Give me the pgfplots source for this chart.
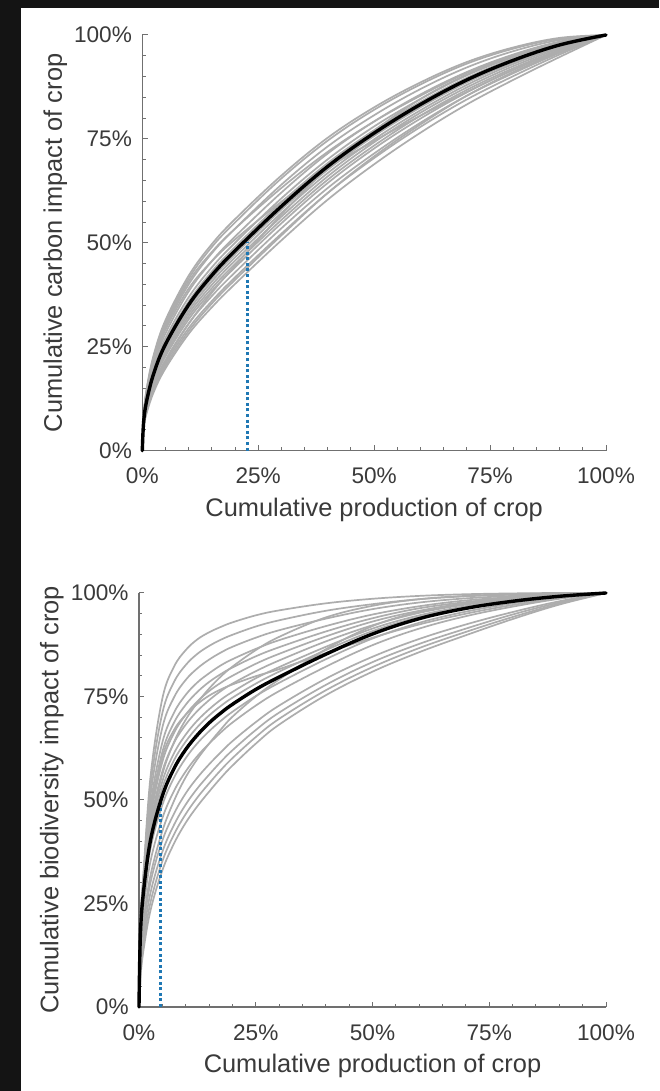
\documentclass[border=0pt]{standalone}
\usepackage{fontspec}
\setmainfont{Liberation Sans}
\usepackage{pgfplots}
\usepackage{pgfplotstable}
\pgfplotsset{compat=1.18}
\definecolor{curvegray}{HTML}{ADADAD}
\definecolor{axgray}{HTML}{707070}
\definecolor{txtgray}{HTML}{3A3A3A}
\definecolor{dotblue}{HTML}{1F78B4}
\definecolor{bgdark}{HTML}{141414}
\newcommand\ticklabelfont{\fontsize{11.3}{13}\selectfont}
\newcommand\labelfont{\fontsize{12.7}{15}\selectfont}

% carbon: cumulative production (x) vs cumulative carbon impact, 18 crops + median
\pgfplotstableread{
x     c1    c2    c3    c4    c5    c6    c7    c8    c9    c10   c11   c12   c13   c14   c15   c16   c17   c18   med
0     0     0     0     0     0     0     0     0     0     0     0     0     0     0     0     0     0     0     0
0.003 0.086 0.085 0.082 0.078 0.075 0.073 0.070 0.068 0.067 0.065 0.064 0.061 0.059 0.056 0.080 0.060 0.083 0.058 0.071
0.01  0.153 0.150 0.144 0.137 0.131 0.127 0.120 0.117 0.114 0.111 0.108 0.104 0.099 0.093 0.141 0.102 0.147 0.096 0.123
0.025 0.232 0.228 0.219 0.207 0.198 0.192 0.183 0.178 0.174 0.169 0.165 0.158 0.151 0.142 0.214 0.156 0.223 0.147 0.187
0.05  0.314 0.308 0.297 0.282 0.271 0.263 0.250 0.244 0.239 0.233 0.227 0.218 0.210 0.198 0.291 0.215 0.302 0.204 0.256
0.1   0.421 0.414 0.400 0.383 0.369 0.359 0.344 0.337 0.330 0.323 0.316 0.306 0.295 0.281 0.390 0.305 0.407 0.288 0.351
0.15  0.497 0.490 0.475 0.456 0.441 0.431 0.414 0.407 0.399 0.391 0.384 0.372 0.360 0.345 0.456 0.380 0.478 0.354 0.422
0.2   0.557 0.549 0.534 0.515 0.500 0.490 0.473 0.465 0.457 0.449 0.441 0.429 0.417 0.401 0.508 0.445 0.534 0.411 0.481
0.3   0.662 0.655 0.640 0.621 0.607 0.597 0.580 0.572 0.563 0.555 0.547 0.535 0.522 0.506 0.599 0.568 0.632 0.518 0.588
0.4   0.753 0.746 0.732 0.715 0.701 0.692 0.676 0.668 0.660 0.652 0.644 0.632 0.620 0.604 0.680 0.680 0.719 0.620 0.684
0.5   0.826 0.820 0.807 0.792 0.780 0.771 0.757 0.749 0.742 0.734 0.727 0.715 0.704 0.689 0.745 0.770 0.792 0.708 0.764
0.6   0.886 0.881 0.870 0.857 0.846 0.839 0.826 0.819 0.813 0.806 0.799 0.789 0.779 0.765 0.806 0.846 0.854 0.785 0.833
0.7   0.935 0.931 0.922 0.911 0.903 0.897 0.886 0.880 0.874 0.868 0.862 0.854 0.845 0.833 0.863 0.905 0.909 0.854 0.892
0.8   0.970 0.967 0.961 0.953 0.947 0.943 0.934 0.930 0.925 0.920 0.916 0.908 0.901 0.892 0.916 0.948 0.951 0.911 0.939
0.9   0.993 0.991 0.988 0.984 0.980 0.978 0.973 0.970 0.967 0.964 0.962 0.957 0.953 0.947 0.962 0.981 0.983 0.959 0.976
1     1     1     1     1     1     1     1     1     1     1     1     1     1     1     1     1     1     1     1
}\carbon

% biodiversity: cumulative production (x) vs cumulative biodiversity impact, 18 crops + median
\pgfplotstableread{
x     c1    c2    c3    c4    c5    c6    c7    c8    c9    c10   c11   c12   c13   c14   c15   c16   c17   c18   med
0     0     0     0     0     0     0     0     0     0     0     0     0     0     0     0     0     0     0     0
0.003 0.200 0.196 0.193 0.189 0.186 0.184 0.181 0.179 0.177 0.162 0.144 0.112 0.096 0.083 0.070 0.123 0.185 0.180 0.175
0.01  0.330 0.323 0.316 0.308 0.304 0.299 0.294 0.289 0.286 0.265 0.239 0.197 0.176 0.157 0.140 0.211 0.301 0.292 0.282
0.025 0.560 0.537 0.514 0.490 0.475 0.459 0.444 0.428 0.417 0.385 0.354 0.303 0.278 0.255 0.235 0.320 0.467 0.436 0.405
0.05  0.745 0.710 0.675 0.639 0.616 0.592 0.569 0.545 0.529 0.488 0.456 0.402 0.375 0.352 0.330 0.425 0.604 0.562 0.510
0.075 0.822 0.785 0.748 0.711 0.687 0.662 0.638 0.613 0.596 0.554 0.522 0.467 0.440 0.417 0.395 0.498 0.669 0.640 0.576
0.1   0.862 0.826 0.790 0.754 0.730 0.706 0.682 0.658 0.641 0.601 0.569 0.516 0.489 0.466 0.445 0.555 0.706 0.694 0.622
0.125 0.888 0.853 0.818 0.784 0.761 0.738 0.715 0.692 0.676 0.637 0.606 0.554 0.528 0.506 0.485 0.599 0.732 0.735 0.657
0.15  0.905 0.872 0.839 0.806 0.785 0.763 0.741 0.719 0.704 0.666 0.636 0.586 0.561 0.540 0.520 0.636 0.752 0.769 0.686
0.175 0.918 0.887 0.856 0.825 0.804 0.783 0.763 0.742 0.727 0.691 0.663 0.615 0.592 0.572 0.553 0.670 0.767 0.798 0.710
0.2   0.929 0.899 0.870 0.840 0.820 0.800 0.781 0.761 0.747 0.713 0.687 0.642 0.620 0.601 0.583 0.701 0.779 0.822 0.731
0.25  0.946 0.919 0.892 0.865 0.847 0.829 0.811 0.794 0.781 0.751 0.728 0.688 0.669 0.652 0.636 0.750 0.799 0.862 0.767
0.3   0.958 0.934 0.910 0.886 0.869 0.853 0.837 0.821 0.810 0.783 0.763 0.728 0.711 0.696 0.682 0.791 0.816 0.894 0.797
0.4   0.975 0.957 0.938 0.920 0.907 0.895 0.883 0.870 0.862 0.840 0.822 0.793 0.778 0.765 0.753 0.864 0.855 0.941 0.852
0.5   0.986 0.973 0.961 0.948 0.939 0.931 0.922 0.914 0.908 0.890 0.874 0.846 0.833 0.821 0.810 0.920 0.892 0.969 0.901
0.6   0.993 0.985 0.977 0.968 0.963 0.957 0.952 0.946 0.942 0.928 0.914 0.889 0.877 0.867 0.857 0.955 0.924 0.985 0.938
0.7   0.997 0.992 0.987 0.982 0.978 0.975 0.972 0.968 0.966 0.955 0.944 0.924 0.914 0.906 0.898 0.975 0.950 0.993 0.963
0.8   0.999 0.996 0.993 0.990 0.989 0.987 0.985 0.983 0.982 0.975 0.967 0.954 0.948 0.942 0.937 0.987 0.971 0.997 0.980
0.9   1.000 0.999 0.998 0.996 0.996 0.995 0.994 0.993 0.993 0.990 0.986 0.980 0.977 0.974 0.972 0.995 0.988 0.999 0.992
1     1     1     1     1     1     1     1     1     1     1     1     1     1     1     1     1     1     1     1
}\biodiv

\pgfplotsset{
  lorenz/.style={
    scale only axis,
    xmin=0, xmax=1, ymin=0, ymax=1,
    enlargelimits=false,
    axis lines=left,
    axis line style={-, axgray, line width=0.6pt},
    xtick={0,0.25,0.5,0.75,1},
    ytick={0,0.25,0.5,0.75,1},
    xticklabels={0\%,25\%,50\%,75\%,100\%},
    yticklabels={0\%,25\%,50\%,75\%,100\%},
    minor tick num=4,
    tick align=inside,
    major tick length=2.6pt,
    minor tick length=1.6pt,
    tick style={axgray, line width=0.5pt},
    ticklabel style={font=\ticklabelfont, text=txtgray, inner sep=0pt},
    xticklabel style={yshift=-8.5pt},
    yticklabel style={xshift=-5pt},
    label style={font=\labelfont, text=txtgray},
    clip=false,
  },
  graycurve/.style={curvegray, line width=0.85pt, smooth, tension=0.6, line join=round, line cap=round},
  medcurve/.style={black, line width=1.7pt, smooth, tension=0.6, line join=round, line cap=round},
  bluedot/.style={dotblue, line width=1.5pt, dash pattern=on 1.5pt off 1.3pt},
}

\begin{document}
\begin{tikzpicture}
\useasboundingbox (0,0) rectangle (329.5pt,545.5pt);
\fill[white] (0,0) rectangle (329.5pt,545.5pt);
\fill[bgdark] (0,0) rectangle (10.5pt,545.5pt);
\fill[bgdark] (0,541.5pt) rectangle (329.5pt,545.5pt);

\begin{axis}[lorenz,
  at={(71.15pt,320.15pt)}, anchor=south west,
  width=231.85pt, height=207.85pt,
  xlabel={Cumulative production of crop},
  ylabel={Cumulative carbon impact of crop},
  xlabel style={at={(axis description cs:0.5,-0.1588)}, anchor=base},
  ylabel style={at={(axis description cs:-0.1736,0.5)}, anchor=base},
]
\pgfplotsinvokeforeach{1,...,18}{
  \addplot[graycurve] table[x=x, y=c#1] {\carbon};
}
\addplot[bluedot] coordinates {(0.226,0) (0.226,0.503)};
\addplot[medcurve] table[x=x, y=med] {\carbon};
\end{axis}

\begin{axis}[lorenz,
  at={(69.5pt,42pt)}, anchor=south west,
  width=233.5pt, height=207pt,
  xlabel={Cumulative production of crop},
  ylabel={Cumulative biodiversity impact of crop},
  xlabel style={at={(axis description cs:0.5,-0.1594)}, anchor=base},
  ylabel style={at={(axis description cs:-0.1724,0.5)}, anchor=base},
]
\pgfplotsinvokeforeach{1,...,18}{
  \addplot[graycurve] table[x=x, y=c#1] {\biodiv};
}
\addplot[bluedot] coordinates {(0.047,0) (0.047,0.5)};
\addplot[medcurve] table[x=x, y=med] {\biodiv};
\end{axis}
\end{tikzpicture}
\end{document}
